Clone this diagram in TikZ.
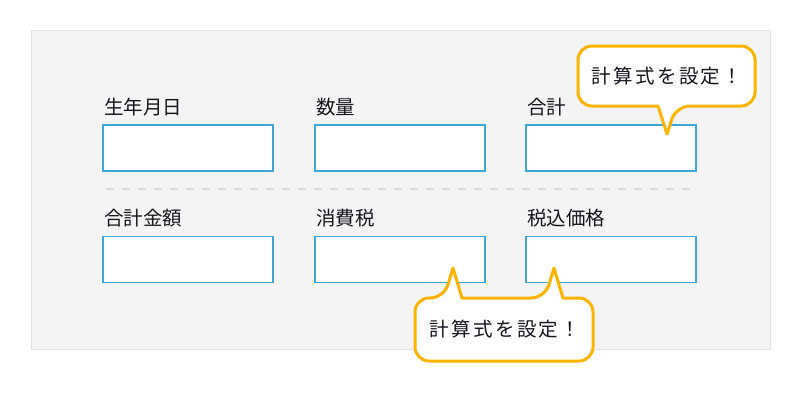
\documentclass[tikz,border=0pt]{standalone}
\usepackage{fontspec}
\setmainfont{Noto Sans CJK JP}
\newfontfamily\spacedfont[LetterSpace=12]{Noto Sans CJK JP}
\definecolor{panelgray}{HTML}{F4F4F4}
\definecolor{panelline}{HTML}{E2E2E2}
\definecolor{fieldblue}{HTML}{3EA6D8}
\definecolor{calloutorange}{HTML}{FFB300}
\definecolor{inkdark}{HTML}{16161F}
\tikzset{
  field/.style={draw=fieldblue, line width=1.4pt, fill=white, minimum width=170pt, minimum height=46pt, inner sep=0pt},
  lbl/.style={anchor=west, inner sep=0pt, text=inkdark, font=\fontsize{19.5}{19.5}\selectfont},
  callout/.style={draw=calloutorange, line width=3pt, fill=white, line join=round},
  callouttext/.style={inner sep=0pt, text=inkdark, font=\spacedfont\fontsize{19.5}{19.5}\selectfont}
}
\begin{document}
\begin{tikzpicture}[x=1pt,y=-1pt]
\useasboundingbox (0,0) rectangle (800,400);
\draw[fill=panelgray,draw=panelline,line width=1pt] (31,30) rectangle (770,349);

\node[lbl] (l1) at (104,107) {生年月日};
\node[lbl] (l2) at (316,107) {数量};
\node[lbl] (l3) at (527,107) {合計};
\node[field] (f1) at (188,148) {};
\node[field] (f2) at (400,148) {};
\node[field] (f3) at (611,148) {};

\draw[panelline!90!gray,line width=2pt,dash pattern=on 8pt off 8pt] (106,189) -- (692,189);

\node[lbl] (l4) at (104,218) {合計金額};
\node[lbl] (l5) at (316,218) {消費税};
\node[lbl] (l6) at (527,218) {税込価格};
\node[field] (f4) at (188,259.5) {};
\node[field] (f5) at (400,259.5) {};
\node[field] (f6) at (611,259.5) {};

% callouts
\draw[callout] (667,134) -- (658,106) [rounded corners=14pt] -- (578,106) -- (578,46) -- (755,46) -- (755,106) -- (676,106) [sharp corners] -- cycle;
\node[callouttext] (c1) at (667,76) {計算式を設定！};

\draw[callout] (453,268) -- (462,298) [rounded corners=14pt] -- (545,298) [sharp corners] -- (554,268) -- (563,298) [rounded corners=14pt] -- (593,298) -- (593,361) -- (415,361) -- (415,298) -- (444,298) [sharp corners] -- cycle;
\node[callouttext] (c2) at (505,329) {計算式を設定！};
\end{tikzpicture}
\end{document}
